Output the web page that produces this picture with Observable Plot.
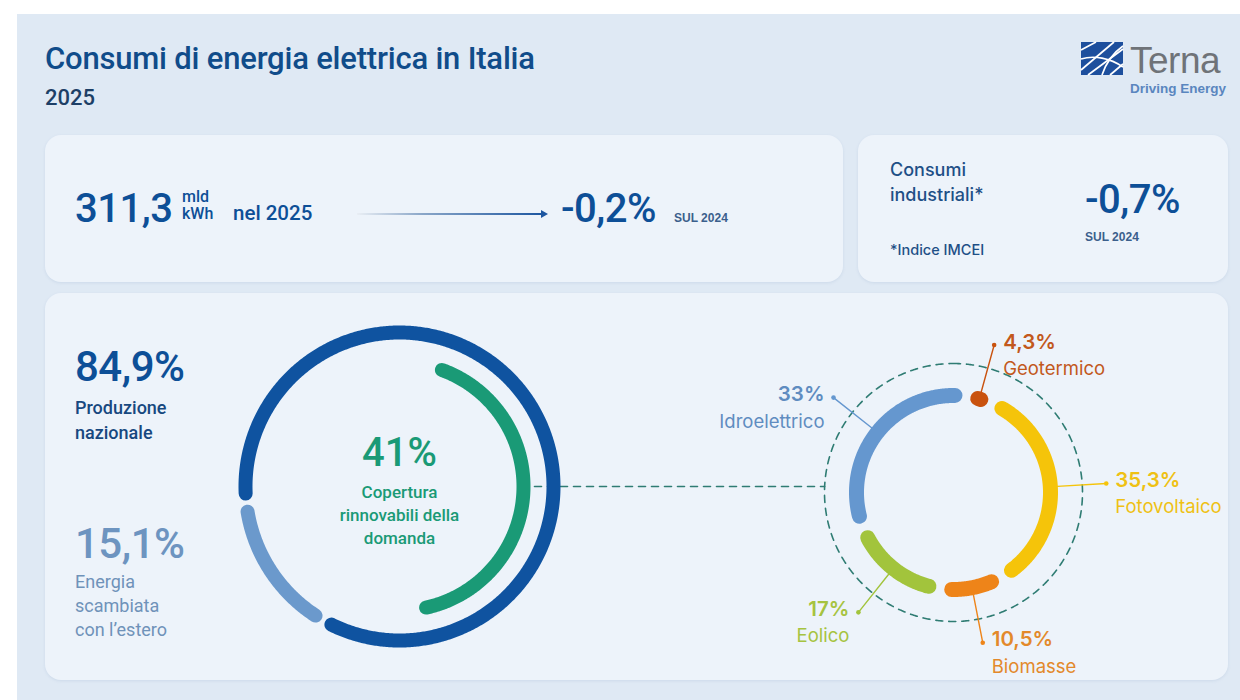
<!DOCTYPE html>
<html lang="it">
<head>
<meta charset="utf-8">
<script src="https://cdn.jsdelivr.net/npm/d3@7"></script>
<script src="https://cdn.jsdelivr.net/npm/@observablehq/plot@0.6"></script>
<style>
  html, body { margin: 0; padding: 0; }
  body { width: 1240px; height: 700px; position: relative; overflow: hidden; background: #ffffff; font-family: Roboto, "Noto Sans", sans-serif; }
  .abs { position: absolute; white-space: nowrap; }
  .panel { left: 17px; top: 14px; width: 1223px; height: 686px; background: #dfe9f4; }
  .card { background: #edf3fa; border-radius: 16px; box-shadow: 0 1px 3px rgba(120,150,190,0.18); }
  .big { font-size: 42px; font-weight: 500; line-height: 1; color: #0d4f97; letter-spacing: -0.5px; }
  .mid { font-size: 40px; }
  .sul { font-family: Arial, "Liberation Sans", sans-serif; font-size: 12px; font-weight: 700; line-height: 1; color: #3b5f8c; }
  .unit { font-size: 16px; font-weight: 500; line-height: 1; color: #0d4f97; }
</style>
</head>
<body>
<div class="abs panel"></div>

<div class="abs" id="title" style="left:45px;top:43px;font-size:31px;font-weight:500;line-height:1;color:#104c8a;letter-spacing:-0.2px;">Consumi di energia elettrica in Italia</div>
<div class="abs" id="year" style="left:45px;top:87px;font-size:22px;font-weight:500;line-height:1;color:#1d3f66;">2025</div>

<!-- logo -->
<svg class="abs" style="left:1080px;top:40px;" width="156" height="58" viewBox="0 0 156 58">
  <rect x="1" y="2" width="42" height="33" fill="#1d4f9d"/>
  <g stroke="#ffffff" stroke-width="1.7" fill="none">
    <path d="M1 30 L34 2"/>
    <path d="M8 35 L43 9"/>
    <path d="M1 19 C14 15 30 18 43 27"/>
    <path d="M22 35 C26 23 33 13 43 6"/>
    <path d="M1 10 L16 2"/>
    <path d="M30 35 L43 24"/>
  </g>
  <text x="50" y="33" font-family="Arial, 'Liberation Sans', sans-serif" font-size="37" fill="#6f7378" letter-spacing="-0.5">Terna</text>
  <text x="50" y="53" font-family="Arial, 'Liberation Sans', sans-serif" font-size="13.5" font-weight="700" fill="#5a86bf">Driving Energy</text>
</svg>

<!-- top left card -->
<div class="abs card" style="left:45px;top:135px;width:798px;height:147px;"></div>
<div class="abs big mid" id="totalVal" style="left:75px;top:189px;"></div>
<div class="abs unit" style="left:182px;top:189px;">mld</div>
<div class="abs unit" style="left:182px;top:206px;">kWh</div>
<div class="abs" style="left:233px;top:203px;font-size:20.5px;font-weight:500;line-height:1;color:#0d4f97;" id="totalYear"></div>
<div class="abs" style="left:357px;top:213px;width:186px;height:2px;background:linear-gradient(90deg,#e9eef4 0%,#8aa6c8 35%,#1d56a0 100%);"></div>
<svg class="abs" style="left:540px;top:209px;" width="10" height="10"><path d="M1 1 L8 5 L1 9 Z" fill="#1d56a0"/></svg>
<div class="abs big mid" id="totalVar" style="left:561px;top:189px;"></div>
<div class="abs sul" style="left:674px;top:212px;">SUL 2024</div>

<!-- top right card -->
<div class="abs card" style="left:858px;top:135px;width:370px;height:147px;"></div>
<div class="abs" style="left:890px;top:157px;font-family:Inter, Roboto, sans-serif;font-size:18px;font-weight:500;line-height:25px;color:#1e4f86;">Consumi<br>industriali*</div>
<div class="abs" style="left:890px;top:243px;font-family:Inter, Roboto, sans-serif;font-size:14.5px;font-weight:500;line-height:1;color:#1e4f86;">*Indice IMCEI</div>
<div class="abs big mid" id="indVar" style="left:1085px;top:180px;"></div>
<div class="abs sul" style="left:1085px;top:231px;">SUL 2024</div>

<!-- bottom card -->
<div class="abs card" style="left:45px;top:293px;width:1183px;height:387px;"></div>
<div class="abs big" id="prodVal" style="left:75px;top:346px;"></div>
<div class="abs" id="prodLab" style="left:75px;top:395px;font-size:18px;font-weight:500;line-height:25px;color:#17487f;white-space:normal;width:140px;"></div>
<div class="abs big" id="estVal" style="left:75px;top:523px;color:#6d94c0;"></div>
<div class="abs" id="estLab" style="left:75px;top:570px;font-size:18px;font-weight:400;line-height:24px;color:#6f92b9;white-space:normal;width:140px;"></div>

<div class="abs" id="chart" style="left:45px;top:293px;"></div>

<script>
// ---------- data ----------
const totalConsumption = 311.3;            // mld kWh
const totalYear = 2025;
const totalChange = -0.2;                 // % sul 2024
const industrialChange = -0.7;            // % sul 2024 (Indice IMCEI)

const sourceNames = ["Produzione nazionale", "Energia scambiata con l’estero"];
const sourceShares = [84.9, 15.1];

const renewableCoverageLabel = "Copertura rinnovabili della domanda";
const renewableCoverage = 41;

const renewableNames = ["Idroelettrico", "Geotermico", "Fotovoltaico", "Biomasse", "Eolico"];
const renewableShares = [33, 4.3, 35.3, 10.5, 17];

// ---------- palette (styles, kept apart from the data) ----------
const sourceColors = ["#0f53a0", "#6b99cc"];
const coverageColor = "#1a9a76";
const renewableColors = ["#6597cf", "#c9520e", "#f5c40a", "#ee8419", "#a2c43c"];
const renewableTextColors = ["#5f8cc0", "#c2581c", "#efc114", "#e3892a", "#a6c340"];

// ---------- helpers ----------
const fmt = v => String(v).replace(".", ",");
const fmtSigned = v => (v < 0 ? "-" : "+") + fmt(Math.abs(v));

document.getElementById("totalVal").textContent = fmt(totalConsumption);
document.getElementById("totalYear").textContent = "nel " + totalYear;
document.getElementById("totalVar").textContent = fmtSigned(totalChange) + "%";
document.getElementById("indVar").textContent = fmtSigned(industrialChange) + "%";
document.getElementById("prodVal").textContent = fmt(sourceShares[0]) + "%";
document.getElementById("prodLab").innerHTML = "Produzione<br>nazionale";
document.getElementById("estVal").textContent = fmt(sourceShares[1]) + "%";
document.getElementById("estLab").innerHTML = "Energia<br>scambiata<br>con l’estero";

// ---------- layout ----------
const W = 1183, H = 387;
const L = {cx: 354, cy: 193, rOuter: 154, rInner: 124, width: 14, start: 264, pad: 3.4, innerStart: 20};
const R = {cx: 908, cy: 199, r: 97, width: 15, start: 249, pad: 6.8, rDash: 129, rLead0: 104, rLead1: 153};

const rad = a => a * Math.PI / 180;
const px = (c, r, a) => c.cx + r * Math.sin(rad(a));
const py = (c, r, a) => c.cy - r * Math.cos(rad(a));

function arcPoints(key, c, r, a0, a1) {
  const n = Math.max(2, Math.ceil(Math.abs(a1 - a0) * 2));
  return d3.range(n + 1).map(i => {
    const a = a0 + (a1 - a0) * i / n;
    return {key, x: px(c, r, a), y: py(c, r, a)};
  });
}

function ringSegments(names, shares, c, r, start, pad) {
  const total = d3.sum(shares);
  let acc = start;
  const segs = [];
  names.forEach((name, i) => {
    const span = shares[i] / total * 360;
    segs.push({key: name, i, a0: acc, a1: acc + span, mid: acc + span / 2, share: shares[i]});
    acc += span;
  });
  const pts = segs.flatMap(s => arcPoints(s.key, c, r, s.a0 + pad, s.a1 - pad));
  return {segs, pts};
}

// left ring: national production vs exchange
const outer = ringSegments(sourceNames, sourceShares, L, L.rOuter, L.start, L.pad);
// inner arc: renewable coverage of demand
const coverageSpan = renewableCoverage / 100 * 360;
const coveragePts = arcPoints(renewableCoverageLabel, L, L.rInner, L.innerStart, L.innerStart + coverageSpan);

// right ring: renewable mix
const mix = ringSegments(renewableNames, renewableShares, R, R.r, R.start, R.pad);

// dashed circle around the mix
const dashCircle = arcPoints("dash", R, R.rDash, 0, 360);

// connector from coverage arc to the dashed circle
const connY = L.cy;
const connX0 = L.cx + L.rInner + L.width / 2 + 4;
const connX1 = R.cx - Math.sqrt(R.rDash * R.rDash - (connY - R.cy) ** 2);
const connector = [{x: connX0, y: connY}, {x: connX1, y: connY}];

// leader lines + labels
const leaders = mix.segs.flatMap(s => [
  {key: s.key, x: px(R, R.rLead0, s.mid), y: py(R, R.rLead0, s.mid)},
  {key: s.key, x: px(R, R.rLead1, s.mid), y: py(R, R.rLead1, s.mid)}
]);
const labels = mix.segs.map(s => ({
  key: s.key,
  pct: fmt(s.share) + "%",
  tcolor: renewableTextColors[s.i],
  side: Math.sin(rad(s.mid)) >= 0 ? "right" : "left",
  x: px(R, R.rLead1, s.mid),
  y: py(R, R.rLead1, s.mid)
}));

const colorDomain = [...sourceNames, renewableCoverageLabel, ...renewableNames];
const colorRange = [...sourceColors, coverageColor, ...renewableColors];

const labelFont = "Inter, Roboto, sans-serif";
const textMarks = side => {
  const data = labels.filter(d => d.side === side);
  const dx = side === "right" ? 9 : -9;
  const anchor = side === "right" ? "start" : "end";
  return [
    Plot.text(data, {x: "x", y: "y", text: "pct", dx, dy: -3, fill: d => d.tcolor, textAnchor: anchor,
      fontSize: 20.5, fontWeight: 600, fontFamily: labelFont}),
    Plot.text(data, {x: "x", y: "y", text: "key", dx, dy: 24, fill: d => d.tcolor, textAnchor: anchor,
      fontSize: 18.5, fontWeight: 400, fontFamily: labelFont})
  ];
};

const chart = Plot.plot({
  width: W,
  height: H,
  margin: 0,
  style: {background: "transparent", overflow: "visible"},
  x: {domain: [0, W], range: [0, W], axis: null},
  y: {domain: [0, H], range: [0, H], axis: null},
  color: {domain: colorDomain, range: colorRange},
  marks: [
    Plot.line(connector, {x: "x", y: "y", stroke: "#2f7c73", strokeWidth: 1.6, strokeDasharray: "7,6"}),
    Plot.line(dashCircle, {x: "x", y: "y", stroke: "#2f7c73", strokeWidth: 1.6, strokeDasharray: "7,6"}),
    Plot.line(outer.pts, {x: "x", y: "y", z: "key", stroke: "key", strokeWidth: L.width, strokeLinecap: "round"}),
    Plot.line(coveragePts, {x: "x", y: "y", z: "key", stroke: "key", strokeWidth: L.width, strokeLinecap: "round"}),
    Plot.line(leaders, {x: "x", y: "y", z: "key", stroke: "key", strokeWidth: 1.4}),
    Plot.line(mix.pts, {x: "x", y: "y", z: "key", stroke: "key", strokeWidth: R.width, strokeLinecap: "round"}),
    Plot.dot(labels, {x: "x", y: "y", r: 2.3, fill: "key"}),
    ...textMarks("right"),
    ...textMarks("left"),
    Plot.text([renewableCoverage], {x: L.cx, y: L.cy - 33, text: d => d + "%", fill: coverageColor,
      fontSize: 40, fontWeight: 500, fontFamily: "Roboto, sans-serif"}),
    Plot.text(["Copertura", "rinnovabili della", "domanda"], {x: L.cx, y: (d, i) => L.cy + 6 + i * 23, text: d => d,
      fill: coverageColor, fontSize: 17, fontWeight: 500, fontFamily: "Roboto, sans-serif"})
  ]
});
document.getElementById("chart").appendChild(chart);
</script>
</body>
</html>
